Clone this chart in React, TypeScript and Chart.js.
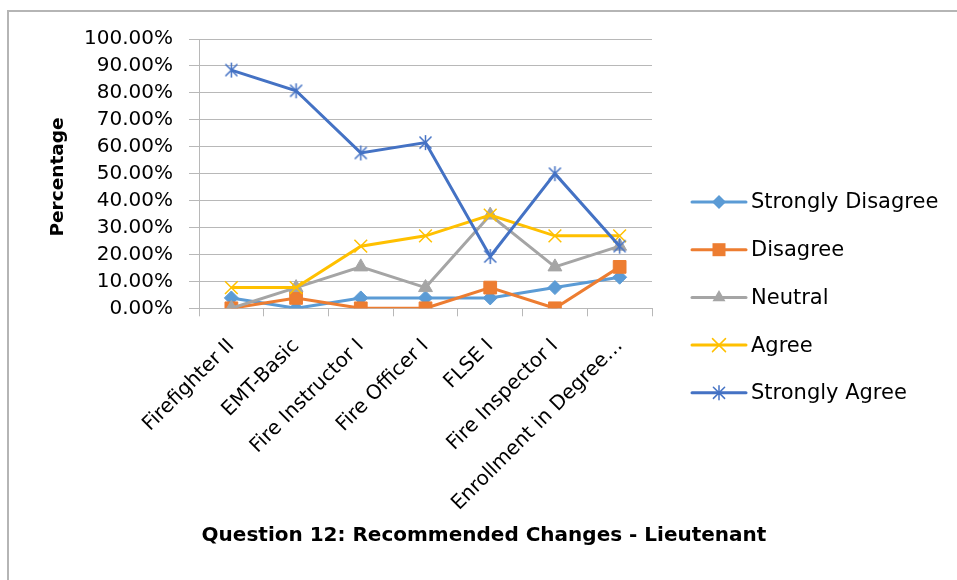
import React, { useEffect, useRef } from 'react';
import { Chart, registerables } from 'chart.js';

Chart.register(...registerables);

const categories = [
  'Firefighter II',
  'EMT-Basic',
  'Fire Instructor I',
  'Fire Officer I',
  'FLSE I',
  'Fire Inspector I',
  'Enrollment in Degree…',
];
const stronglyDisagree = [3.85, 0, 3.85, 3.85, 3.85, 7.69, 11.54];
const disagree = [0, 3.85, 0, 0, 7.69, 0, 15.38];
const neutral = [0, 7.69, 15.38, 7.69, 34.62, 15.38, 23.08];
const agree = [7.69, 7.69, 23.08, 26.92, 34.62, 26.92, 26.92];
const stronglyAgree = [88.46, 80.77, 57.69, 61.54, 19.23, 50.0, 23.08];

const seriesNames = ['Strongly Disagree', 'Disagree', 'Neutral', 'Agree', 'Strongly Agree'];
const seriesColors = ['#5B9BD5', '#ED7D31', '#A5A5A5', '#FFC000', '#4472C4'];
const seriesValues = [stronglyDisagree, disagree, neutral, agree, stronglyAgree];

const chartTitle = 'Question 12: Recommended Changes - Lieutenant';
const yAxisTitle = 'Percentage';

const FONT = "'DejaVu Sans', sans-serif";
const GRID = '#b8b8b8';

function makeStar(color: string, size: number) {
  const c = document.createElement('canvas');
  c.width = size;
  c.height = size;
  const g = c.getContext('2d')!;
  g.strokeStyle = color;
  g.lineWidth = 1.5;
  const h = size / 2;
  const r = h - 1;
  g.beginPath();
  g.moveTo(h, h - r);
  g.lineTo(h, h + r);
  const d = r * 0.8;
  g.moveTo(h - d, h - d);
  g.lineTo(h + d, h + d);
  g.moveTo(h + d, h - d);
  g.lineTo(h - d, h + d);
  g.stroke();
  return c;
}

function drawMarker(ctx: CanvasRenderingContext2D, i: number, x: number, y: number) {
  const color = seriesColors[i];
  ctx.save();
  ctx.fillStyle = color;
  ctx.strokeStyle = color;
  ctx.beginPath();
  if (i === 0) {
    const r = 7;
    ctx.moveTo(x, y - r);
    ctx.lineTo(x + r, y);
    ctx.lineTo(x, y + r);
    ctx.lineTo(x - r, y);
    ctx.closePath();
    ctx.fill();
  } else if (i === 1) {
    const s = 6.5;
    ctx.rect(x - s, y - s, 2 * s, 2 * s);
    ctx.fill();
  } else if (i === 2) {
    const r = 7.5;
    ctx.moveTo(x, y - r);
    ctx.lineTo(x + r * 0.866, y + r * 0.5);
    ctx.lineTo(x - r * 0.866, y + r * 0.5);
    ctx.closePath();
    ctx.fill();
  } else if (i === 3) {
    const d = 6.5;
    ctx.lineWidth = 1.5;
    ctx.moveTo(x - d, y - d);
    ctx.lineTo(x + d, y + d);
    ctx.moveTo(x + d, y - d);
    ctx.lineTo(x - d, y + d);
    ctx.stroke();
  } else {
    const r = 7;
    const d = r * 0.8;
    ctx.lineWidth = 1.5;
    ctx.moveTo(x, y - r);
    ctx.lineTo(x, y + r);
    ctx.moveTo(x - d, y - d);
    ctx.lineTo(x + d, y + d);
    ctx.moveTo(x + d, y - d);
    ctx.lineTo(x - d, y + d);
    ctx.stroke();
  }
  ctx.restore();
}

const decorPlugin = {
  id: 'decor',
  beforeDraw(chart: any) {
    const ctx = chart.ctx as CanvasRenderingContext2D;
    ctx.save();
    ctx.fillStyle = '#ffffff';
    ctx.fillRect(0, 0, chart.width, chart.height);
    ctx.strokeStyle = '#b5b5b5';
    ctx.lineWidth = 2;
    ctx.strokeRect(8, 11, 1200, 1200);
    ctx.restore();
  },
  afterDraw(chart: any) {
    const ctx = chart.ctx as CanvasRenderingContext2D;
    ctx.save();
    // legend
    const lx0 = 692;
    const lx1 = 746;
    const ly0 = 202;
    const step = 47.7;
    ctx.font = `21px ${FONT}`;
    ctx.textBaseline = 'middle';
    ctx.textAlign = 'left';
    seriesNames.forEach((name, i) => {
      const y = ly0 + i * step;
      ctx.strokeStyle = seriesColors[i];
      ctx.lineWidth = 3;
      ctx.lineCap = 'round';
      ctx.beginPath();
      ctx.moveTo(lx0, y);
      ctx.lineTo(lx1, y);
      ctx.stroke();
      drawMarker(ctx, i, (lx0 + lx1) / 2, y);
      ctx.fillStyle = '#000000';
      ctx.fillText(name, 751, y + 1);
    });
    // chart title
    ctx.font = `bold 20px ${FONT}`;
    ctx.textAlign = 'center';
    ctx.fillStyle = '#000000';
    ctx.fillText(chartTitle, 484, 536);
    // y axis title
    ctx.translate(58, 177);
    ctx.rotate(-Math.PI / 2);
    ctx.font = `bold 18.5px ${FONT}`;
    ctx.fillText(yAxisTitle, 0, 0);
    ctx.restore();
  },
};

export default function App() {
  const ref = useRef<HTMLCanvasElement | null>(null);

  useEffect(() => {
    if (!ref.current) return;
    const starImg = makeStar(seriesColors[4], 17);
    const pointStyles: any[] = ['rectRot', 'rect', 'triangle', 'crossRot', starImg];
    const radii = [7, 9, 8, 9, 8];
    const chart = new Chart(ref.current, {
      type: 'line',
      data: {
        labels: categories,
        datasets: seriesValues.map((vals, i) => ({
          label: seriesNames[i],
          data: vals,
          borderColor: seriesColors[i],
          backgroundColor: seriesColors[i],
          borderWidth: 3,
          pointStyle: pointStyles[i],
          pointRadius: radii[i],
          pointBorderWidth: i >= 3 ? 1.5 : 1,
          pointBackgroundColor: seriesColors[i],
          pointBorderColor: seriesColors[i],
          tension: 0,
          fill: false,
          order: 5 - i,
        })),
      },
      options: {
        responsive: false,
        animation: false,
        events: [],
        layout: { padding: { left: 0, top: 39, right: 305, bottom: 0 } },
        plugins: {
          legend: { display: false },
          title: { display: false },
          tooltip: { enabled: false },
        },
        scales: {
          x: {
            offset: true,
            grid: {
              offset: true,
              drawOnChartArea: false,
              drawTicks: true,
              tickLength: 8,
              color: GRID,
            },
            border: { color: GRID, width: 1 },
            ticks: {
              autoSkip: false,
              maxRotation: 45,
              minRotation: 45,
              padding: 18,
              color: '#000000',
              font: { family: FONT, size: 20 },
            },
            afterFit: (s: any) => {
              s.height = 271.7;
            },
          },
          y: {
            min: 0,
            max: 100,
            grid: { color: GRID, lineWidth: 1, tickLength: 10 },
            border: { color: GRID, width: 1 },
            ticks: {
              stepSize: 10,
              autoSkip: false,
              padding: 16,
              color: '#000000',
              font: { family: FONT, size: 20 },
              callback: (v: any) => Number(v).toFixed(2) + '%',
            },
            afterFit: (s: any) => {
              s.width = 199;
            },
          },
        },
      },
      plugins: [decorPlugin],
    });
    return () => chart.destroy();
  }, []);

  return (
    <div style={{ position: 'fixed', left: 0, top: 0, width: 957, height: 580, background: '#fff' }}>
      <canvas ref={ref} width={957} height={580} style={{ display: 'block' }} />
    </div>
  );
}
